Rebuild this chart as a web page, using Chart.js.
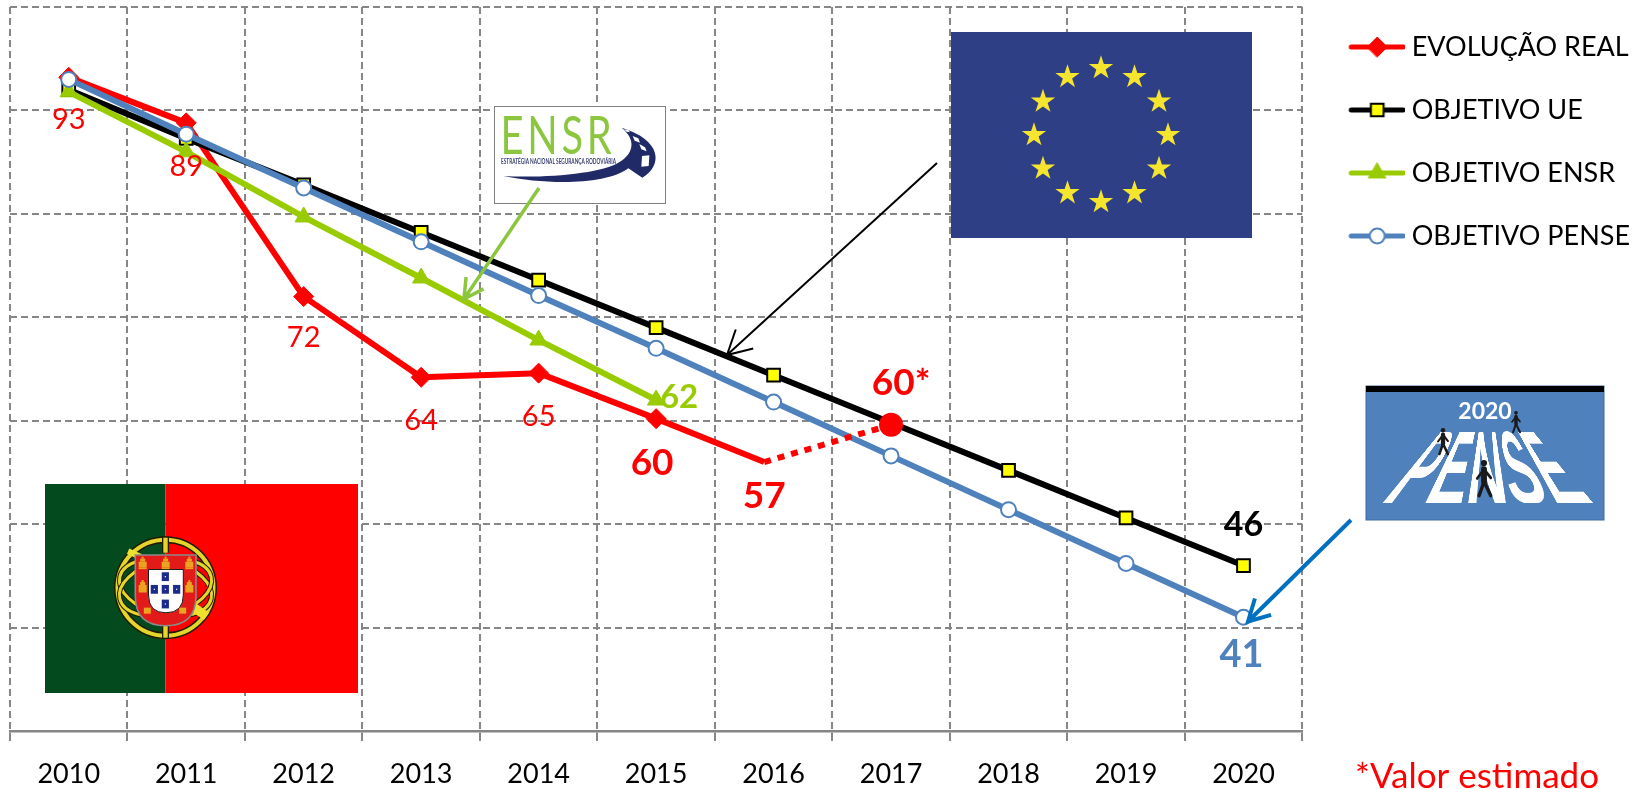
<!DOCTYPE html>
<html><head><meta charset="utf-8">
<style>html,body{margin:0;padding:0;background:#fff}canvas{display:block}</style>
<script src="https://cdn.jsdelivr.net/npm/chart.js@4/dist/chart.umd.js"></script>
</head><body>
<canvas id="c" width="1646" height="789"></canvas>
<script>
const categories = ['2010','2011','2012','2013','2014','2015','2016','2017','2018','2019','2020'];
const objetivoUE    = [92, 87.3, 82.8, 78.2, 73.6, 69, 64.4, 59.8, 55.2, 50.6, 46];
const objetivoENSR  = [91.8, 86, 79.7, 73.8, 67.8, 62];
const objetivoPENSE = [93, 87.7, 82.5, 77.3, 72.1, 67, 61.8, 56.6, 51.4, 46.2, 41];
const realYears     = [2010, 2011, 2012, 2013, 2014, 2015, 2015.92];
const realValues    = [93.2, 88.8, 72, 64.2, 64.6, 60.2, 56];
const estimateYears = [2015.92, 2017];
const estimateValues= [56, 59.6];
const realLabels    = ['93','89','72','64','65','60','57'];
const seriesNames   = ['EVOLUÇÃO REAL','OBJETIVO UE','OBJETIVO ENSR','OBJETIVO PENSE'];
const footnote      = '*Valor estimado';

const RED='#FF0000', BLACK='#000000', GREEN='#99CC00', BLUE='#4F81BD', GRID='#868686';
const FONT='Lato';
Chart.defaults.font.family=FONT;

function pairs(xs,ys){return xs.map((x,i)=>({x,y:ys[i]}));}

const datasets=[
 {label:seriesNames[0],type:'line',xAxisID:'xEst',data:pairs(realYears,realValues),borderColor:RED,backgroundColor:RED,borderWidth:6,
  pointStyle:'rectRot',pointRadius:[10,10,10,10,10,10,0],pointBackgroundColor:RED,pointBorderColor:RED,pointBorderWidth:1,order:3},
 {label:seriesNames[1],data:objetivoUE,borderColor:BLACK,backgroundColor:'#FFFF00',borderWidth:6,
  pointStyle:'rect',pointRadius:9,pointBackgroundColor:'#FFFF00',pointBorderColor:BLACK,pointBorderWidth:2,order:2},
 {label:seriesNames[2],data:objetivoENSR,borderColor:GREEN,backgroundColor:GREEN,borderWidth:6,
  pointStyle:'triangle',pointRadius:10,pointBackgroundColor:GREEN,pointBorderColor:GREEN,pointBorderWidth:1,order:1},
 {label:seriesNames[3],data:objetivoPENSE,borderColor:BLUE,backgroundColor:'#fff',borderWidth:6,
  pointStyle:'circle',pointRadius:7.5,pointBackgroundColor:'#fff',pointBorderColor:BLUE,pointBorderWidth:2,order:0},
 {label:'estimado',type:'line',xAxisID:'xEst',data:pairs(estimateYears,estimateValues),borderColor:RED,backgroundColor:RED,borderWidth:6,borderDash:[7,7],
  pointStyle:'circle',pointRadius:[0,12],pointBackgroundColor:RED,pointBorderColor:RED,pointBorderWidth:0,order:-1}
];

function swatch(ds){
  const cv=document.createElement('canvas');cv.width=74;cv.height=26;
  const g=cv.getContext('2d');
  g.strokeStyle=ds.borderColor;g.lineWidth=5;g.lineCap='round';
  g.beginPath();g.moveTo(20,13);g.lineTo(72,13);g.stroke();
  g.fillStyle=ds.pointBackgroundColor;g.strokeStyle=ds.pointBorderColor;g.lineWidth=ds.pointBorderWidth;
  const r=Array.isArray(ds.pointRadius)?ds.pointRadius[0]:ds.pointRadius;
  Chart.helpers.drawPoint(g,{pointStyle:ds.pointStyle,radius:r,borderWidth:ds.pointBorderWidth,rotation:0},46,13);
  return cv;
}

/* ---------- decorative pictures ---------- */
function fitText(g,t,x,y,w,font,sp){
  g.save();g.font=font;if(sp)g.letterSpacing=sp;const m=g.measureText(t).width;g.translate(x,y);g.scale(w/m,1);g.textAlign='left';g.fillText(t,0,0);g.restore();
}
function star(g,x,y,R){
  g.beginPath();
  for(let i=0;i<10;i++){const a=-Math.PI/2+i*Math.PI/5,r=i%2?R*0.382:R;g.lineTo(x+r*Math.cos(a),y+r*Math.sin(a));}
  g.closePath();g.fill();
}
function euFlag(g){
  g.fillStyle='#2E3F85';g.fillRect(951,32,301,206);
  g.fillStyle='#F6E52F';
  for(let i=0;i<12;i++){const a=i*Math.PI/6;star(g,1101+67*Math.sin(a),135-67*Math.cos(a),12.8);}
}
function ptFlag(g){
  const Z=(x,y)=>[x/3,460+y/3];
  g.fillStyle='#034A1E';g.fillRect(45,484,120.5,209);
  g.fillStyle='#FF0000';g.fillRect(165.5,484,192.5,209);
  const cx=165.5,cy=587.7;
  g.save();
  const ring=(rx,ry,rot,o,i)=>{g.beginPath();g.ellipse(cx,cy,rx,ry,rot,0,Math.PI*2);g.strokeStyle='#221a00';g.lineWidth=o;g.stroke();g.strokeStyle='#E4D52B';g.lineWidth=i;g.stroke();};
  ring(48,48,0,7,4);
  ring(47,27,0.24,5,3);ring(47,27,-0.24,5,3);
  g.fillStyle='#221a00';g.fillRect(cx-3.5,cy-51,7,16);g.fillRect(cx-3.5,cy+35,7,16);
  g.fillStyle='#E4D52B';g.fillRect(cx-2.2,cy-50,4.4,15);g.fillRect(cx-2.2,cy+35,4.4,15);
  g.save();g.translate(cx,cy);g.rotate(0.42);g.fillStyle='#EFE02E';g.fillRect(-49,-21,14,6);g.restore();
  g.save();g.translate(cx,cy);g.rotate(0.62);g.fillStyle='#EFE02E';g.fillRect(30,-5,20,9);g.restore();
  const shield=(l,r,t,mid,b)=>{g.beginPath();g.moveTo(l,t);g.lineTo(r,t);g.lineTo(r,mid);g.quadraticCurveTo(r,b,(l+r)/2,b);g.quadraticCurveTo(l,b,l,mid);g.closePath();};
  shield(135.3,196,555,596,625.7);g.fillStyle='#E21A1A';g.fill();g.strokeStyle='#8a8a8a';g.lineWidth=1.6;g.stroke();
  shield(148.5,183.3,569.5,595,612.8);g.fillStyle='#fff';g.fill();g.strokeStyle='#1a1a1a';g.lineWidth=1;g.stroke();
  g.fillStyle='#1C2A8C';
  [[496,350],[463,388],[496,388],[530,388],[496,432]].forEach(p=>{const[a,b]=Z(p[0],p[1]);g.fillRect(a-3.6,b-4.4,7.2,8.8);});
  g.fillStyle='#fff';
  [[496,350],[463,388],[496,388],[530,388],[496,432]].forEach(p=>{const[a,b]=Z(p[0],p[1]);g.fillRect(a-.6,b-.6,1.2,1.2);});
  g.fillStyle='#E9A51F';
  [[428,308],[497,308],[568,308],[428,378],[568,378]].forEach(p=>{const[a,b]=Z(p[0],p[1]);
    g.fillRect(a-4,b-1,8,6);g.fillRect(a-2.5,b-4,5,3);g.fillRect(a-4,b+5,8,1.5);g.fillRect(a-1,b-6,2,2);});
  [[442,452],[548,452]].forEach(p=>{const[a,b]=Z(p[0],p[1]);g.fillRect(a-3.5,b-3,7,6);});
  g.restore();
}
function ensrLogo(g){
  const X=x=>480+x/3,Y=y=>90+y/3;
  g.fillStyle='#fff';g.fillRect(494.5,106.5,171,97);
  g.strokeStyle='#808080';g.lineWidth=1;g.strokeRect(494.5,106.5,171,97);
  g.fillStyle='#8CC63F';g.textBaseline='alphabetic';
  fitText(g,'ENSR',500.5,153.5,115,'400 53px '+FONT,'5px');
  g.fillStyle='#3A3F72';
  fitText(g,'ESTRATÉGIA NACIONAL SEGURANÇA RODOVIÁRIA',501,163.5,115,'bold 7px '+FONT);
  g.fillStyle='#1F2A66';g.beginPath();
  g.moveTo(X(70),Y(258));
  g.bezierCurveTo(X(200),Y(285),X(380),Y(285),X(445),Y(235));
  g.lineTo(X(487),Y(263));
  g.bezierCurveTo(X(550),Y(225),X(545),Y(150),X(425),Y(113));
  g.bezierCurveTo(X(470),Y(150),X(460),Y(190),X(420),Y(215));
  g.bezierCurveTo(X(370),Y(250),X(200),Y(265),X(70),Y(258));
  g.closePath();g.fill();
  g.fillStyle='#fff';
  [[[432,118],[445,120],[450,127],[440,125]],[[458,138],[475,145],[480,158],[464,152]],[[478,162],[495,172],[500,184],[484,178]],[[486,198],[508,196],[506,228],[484,230]]]
   .forEach(q=>{g.beginPath();q.forEach(p=>g.lineTo(X(p[0]),Y(p[1])));g.closePath();g.fill();});
}
function person(g,cx,top,h){
  const u=h/12;g.fillStyle='#1a1a1a';g.strokeStyle='#1a1a1a';g.lineCap='round';
  g.beginPath();g.arc(cx,top+u,u,0,Math.PI*2);g.fill();
  g.lineWidth=u*1.9;g.beginPath();g.moveTo(cx,top+3*u);g.lineTo(cx,top+7*u);g.stroke();
  g.lineWidth=u*.9;g.beginPath();g.moveTo(cx,top+3*u);g.lineTo(cx-2.2*u,top+6*u);g.moveTo(cx,top+3*u);g.lineTo(cx+2.2*u,top+5.8*u);g.stroke();
  g.lineWidth=u*1.1;g.beginPath();g.moveTo(cx,top+7*u);g.lineTo(cx-1.6*u,top+11.6*u);g.moveTo(cx,top+7*u);g.lineTo(cx+2.2*u,top+11.6*u);g.stroke();
}
function penseLogo(g){
  g.fillStyle='#4F81BD';g.fillRect(1366,386,238,134);
  g.strokeStyle='#3f6a9e';g.lineWidth=1;g.strokeRect(1366,386,238,134);
  g.fillStyle='#000';g.fillRect(1366,386,238,6);
  g.fillStyle='#fff';g.font='bold 23px '+FONT;g.textAlign='center';g.textBaseline='middle';g.fillText('2020',1485,411.5);
  const off=document.createElement('canvas');off.width=440;off.height=148;
  const o=off.getContext('2d');o.fillStyle='#fff';o.textBaseline='alphabetic';
  o.font='bold 190px "Liberation Sans"';
  const w=o.measureText('PENSE').width;o.save();o.scale(440/w,148/136);o.fillText('PENSE',0,136);o.restore();
  const top=429,bot=503,cx=1487;
  for(let y=top;y<bot;y++){
    const t=(y-top)/(bot-top);
    const W=92+(218-92)*t;
    g.drawImage(off,0,t*148,440,148/(bot-top),cx-W/2,y,W,1.2);
  }
  person(g,1443,428,27);person(g,1516,411,22);person(g,1484,460,37);
}
function arrow(g,x1,y1,x2,y2,color,lw,head){
  const a=Math.atan2(y2-y1,x2-x1);
  g.save();g.strokeStyle=color;g.lineWidth=lw;g.lineCap='butt';g.lineJoin='miter';
  g.beginPath();g.moveTo(x1,y1);g.lineTo(x2,y2);
  g.moveTo(x2-head*Math.cos(a-0.5),y2-head*Math.sin(a-0.5));g.lineTo(x2,y2);g.lineTo(x2-head*Math.cos(a+0.5),y2-head*Math.sin(a+0.5));
  g.stroke();g.restore();
}

const pictures={id:'pictures',
  afterLayout(chart){const l=chart.legend;if(l){l.top-=9.5;l.bottom-=9.5;}},
  beforeDatasetsDraw(chart){const g=chart.ctx;g.save();euFlag(g);ptFlag(g);ensrLogo(g);penseLogo(g);g.restore();},
  afterDatasetsDraw(chart){const g=chart.ctx;
    arrow(g,539,188,464,299,'#8CC63F',3.5,22);
    arrow(g,937,163,727,355,'#000',2,27);
    arrow(g,1351,520,1248,621.5,'#0070C0',4,24);
  }};

const valueLabels={id:'valueLabels',
  afterDatasetsDraw(chart){
    const g=chart.ctx,xc=chart.scales.x,xe=chart.scales.xEst,y=chart.scales.y;
    g.save();g.textAlign='center';g.textBaseline='middle';
    const put=(t,px,py,color,font)=>{g.fillStyle=color;g.font=font+' '+FONT;g.fillText(t,px,py);};
    const reg='29px', bold=s=>'bold '+s+'px';
    const rx=i=>xe.getPixelForValue(realYears[i]),ry=i=>y.getPixelForValue(realValues[i]);
    put(realLabels[0],rx(0),ry(0)+42,RED,reg);
    put(realLabels[1],rx(1),ry(1)+44,RED,reg);
    put(realLabels[2],rx(2),ry(2)+41,RED,reg);
    put(realLabels[3],rx(3),ry(3)+43,RED,reg);
    put(realLabels[4],rx(4),ry(4)+44,RED,reg);
    put(realLabels[5],rx(5)-4,ry(5)+44,RED,bold(37));
    put(realLabels[6],rx(6),ry(6)+34,RED,bold(37));
    put('60*',xe.getPixelForValue(estimateYears[1])+10,y.getPixelForValue(estimateValues[1])-42,RED,bold(37));
    put('62',xc.getPixelForValue(5)+23,y.getPixelForValue(objetivoENSR[5])-3,GREEN,bold(33));
    put('46',xc.getPixelForValue(10),y.getPixelForValue(objetivoUE[10])-40,BLACK,bold(34));
    put('41',xc.getPixelForValue(10)-2,y.getPixelForValue(objetivoPENSE[10])+38,BLUE,bold(38));
    g.font='35px '+FONT;g.fillStyle=RED;g.textAlign='left';g.fillText(footnote,1355,777);
    g.restore();
  }};

new Chart(document.getElementById('c'),{
  type:'line',
  data:{labels:categories,datasets},
  plugins:[pictures,valueLabels],
  options:{
    responsive:false,animation:false,
    layout:{autoPadding:false,padding:{left:10,top:7,right:6,bottom:0}},
    elements:{line:{tension:0,fill:false,borderJoinStyle:'round',borderCapStyle:'butt'}},
    plugins:{
      tooltip:{enabled:false},
      title:{display:false},
      legend:{
        display:true,position:'right',align:'start',maxWidth:343,
        labels:{
          color:'#000',font:{size:27,family:FONT},padding:36,usePointStyle:true,pointStyleWidth:60,
          generateLabels:(chart)=>chart.data.datasets.slice(0,4).map((ds,i)=>({text:ds.label,pointStyle:swatch(ds),datasetIndex:i,fontColor:'#000',hidden:false,lineWidth:0}))
        }
      }
    },
    scales:{
      x:{type:'category',offset:true,
        grid:{display:true,offset:true,color:GRID,lineWidth:2,drawTicks:true,tickLength:10,tickColor:GRID,tickWidth:2,tickBorderDash:[]},
        border:{display:true,color:GRID,width:2.5,dash:[7,4]},
        ticks:{color:'#000',font:{size:27,family:FONT},padding:17,maxRotation:0,autoSkip:false},
        afterFit(s){s.height=58;}
      },
      xEst:{type:'linear',axis:'x',position:'bottom',display:false,min:2009.5,max:2020.5},
      y:{type:'linear',position:'left',min:30,max:100,
        grid:{color:GRID,lineWidth:2,drawTicks:false},
        border:{display:false,dash:[7,4]},
        ticks:{display:false,stepSize:10},
        afterFit(s){s.width=0;}
      }
    }
  }
});
</script>
</body></html>
